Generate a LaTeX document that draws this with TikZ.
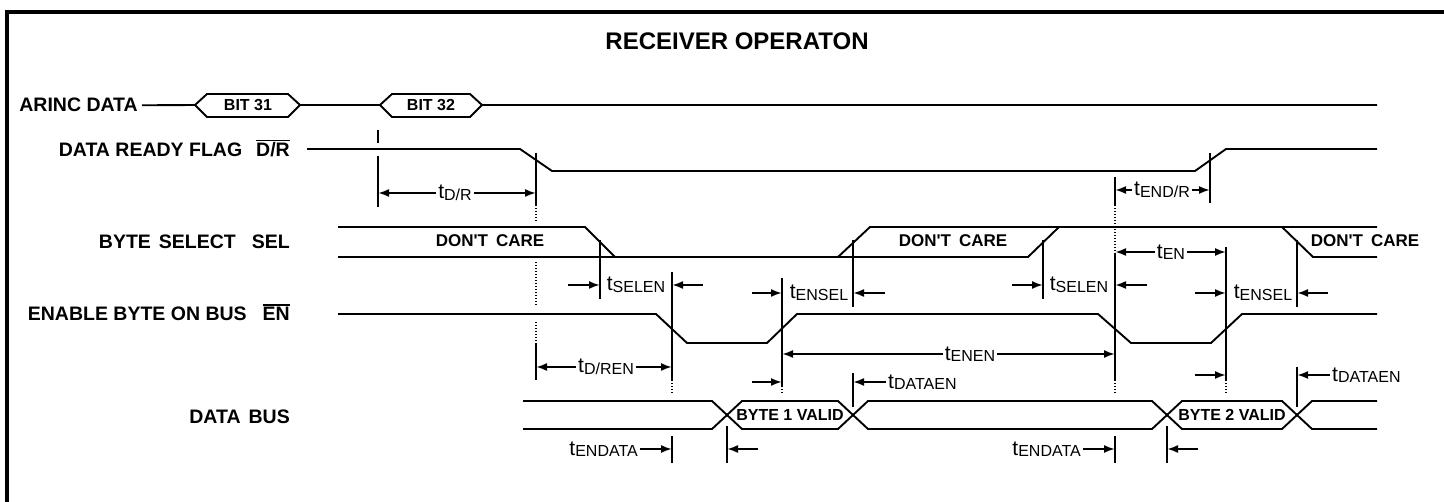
\documentclass[tikz,border=0pt]{standalone}
\usepackage{fontspec}
\setmainfont{Liberation Sans}
\usepackage{tikz}
\usetikzlibrary{arrows.meta, positioning, calc}

\newcommand{\tsub}[1]{t\raisebox{-1.5pt}{\fontsize{16}{16}\selectfont #1}}
\newcommand{\ovl}[1]{\leavevmode\vbox{\hrule height 1.3pt\kern1.8pt\hbox{#1}}}

\begin{document}
\begin{tikzpicture}[x=1pt, y=-1pt,
    sigline/.style={line width=1.9pt},
    markline/.style={line width=2.3pt},
    dotline/.style={line width=1.4pt, dash pattern=on 1.4pt off 1.6pt},
    tarrow/.style={line width=1.9pt, -{Latex[length=11pt, width=8pt]}},
    siglabel/.style={anchor=base east, inner sep=0pt, font=\fontsize{19.5}{20}\selectfont\bfseries},
    boxtext/.style={inner sep=0pt, font=\fontsize{16}{16}\selectfont\bfseries},
    caretext/.style={inner sep=0pt, font=\fontsize{17}{18}\selectfont\bfseries},
    tlabel/.style={inner sep=2pt, font=\fontsize{21}{21}\selectfont}
]
    \useasboundingbox (0,0) rectangle (1444,502);
    \draw[line width=4pt] (7,502) -- (7,12) -- (1444,12);
    \node[font=\fontsize{24}{24}\selectfont\bfseries] (title) at (737,41) {RECEIVER OPERATON};

    % Event times
    \coordinate (bit32) at (378,0);
    \coordinate (drfall) at (536,0);
    \coordinate (selfall) at (600,0);
    \coordinate (enfall) at (672,0);
    \coordinate (bus1) at (727,0);
    \coordinate (enrise) at (782,0);
    \coordinate (selrise) at (853,0);
    \coordinate (selrise2) at (1043,0);
    \coordinate (enfall2) at (1115,0);
    \coordinate (bus2) at (1167,0);
    \coordinate (drrise) at (1210,0);
    \coordinate (enrise2) at (1226,0);
    \coordinate (selfall2) at (1297,0);

    % Signal names
    \node[siglabel] (arinc) at (138,112) {ARINC DATA};
    \node[siglabel] (dr) at (290,157) {DATA READY FLAG\hspace{14pt}\ovl{D/R}};
    \node[siglabel] (sel) at (290,249) {BYTE\hspace{8pt}SELECT\hspace{16pt}SEL};
    \node[siglabel] (en) at (290,321) {ENABLE BYTE ON BUS\hspace{16pt}\ovl{EN}};
    \node[siglabel] (bus) at (290,424) {DATA\hspace{8pt}BUS};

    % ARINC data
    \draw[sigline] ([xshift=4pt]arinc.east) -- (195,105) (300,105) -- (380,105) (482,105) -- (1377,105);
    \draw[sigline] (195,105) -- (207,94) -- (288,94) -- (300,105) -- (288,117) -- (207,117) -- cycle;
    \draw[sigline] (380,105) -- (392,94) -- (470,94) -- (482,105) -- (470,117) -- (392,117) -- cycle;
    \node[boxtext] (bit31) at (248,105) {BIT 31};
    \node[boxtext] (bit32txt) at (431,105) {BIT 32};

    % Data ready
    \draw[sigline] (307,149) -- (520,149) -- (552,171) -- (1195,171) -- (1226,149) -- (1377,149);

    % Byte select
    \draw[sigline] (338,227) -- (585,227) -- (615,257);
    \draw[sigline] (338,257) -- (1028,257) -- (1059,227);
    \draw[sigline] (838,257) -- (870,227) -- (1377,227);
    \draw[sigline] (1282,227) -- (1313,257) -- (1377,257);
    \node[caretext] (care1) at (490,241) {DON\textquotesingle T\hspace{8pt}CARE};
    \node[caretext] (care2) at (953,241) {DON\textquotesingle T\hspace{8pt}CARE};
    \node[caretext] (care3) at (1365,241) {DON\textquotesingle T\hspace{8pt}CARE};

    % Enable
    \draw[sigline] (338,314) -- (656,314) -- (687,343) -- (767,343) -- (797,314) -- (1098,314)
        -- (1131,343) -- (1211,343) -- (1242,314) -- (1377,314);

    % Data bus
    \draw[sigline] (523,401) -- (712,401) -- (742,429) -- (838,429) -- (868,401) -- (1152,401)
        -- (1182,429) -- (1282,429) -- (1312,401) -- (1377,401);
    \draw[sigline] (523,429) -- (712,429) -- (742,401) -- (838,401) -- (868,429) -- (1152,429)
        -- (1182,401) -- (1282,401) -- (1312,429) -- (1377,429);
    \node[boxtext] (byte1) at (790,415) {BYTE 1 VALID};
    \node[boxtext] (byte2) at (1232,415) {BYTE 2 VALID};

    % Markers
    \draw[markline] (378,130) -- (378,143) (378,156) -- (378,207);
    \draw[markline] (536,153) -- (536,205) (536,343) -- (536,380);
    \draw[dotline] (536,205) -- (536,222) (536,262) -- (536,306) (536,322) -- (536,343);
    \draw[markline] (600,240) -- (600,299);
    \draw[markline] (672,272) -- (672,380) (672,436) -- (672,463);
    \draw[dotline] (672,380) -- (672,393);
    \draw[markline] (727,426) -- (727,463);
    \draw[markline] (782,278) -- (782,386);
    \draw[dotline] (782,386) -- (782,393);
    \draw[markline] (853,240) -- (853,307) (853,373) -- (853,407);
    \draw[markline] (1043,240) -- (1043,299);
    \draw[markline] (1115,177) -- (1115,205) (1115,253) -- (1115,380) (1115,436) -- (1115,463);
    \draw[dotline] (1115,205) -- (1115,253) (1115,380) -- (1115,393);
    \draw[markline] (1167,426) -- (1167,463);
    \draw[markline] (1210,153) -- (1210,203);
    \draw[markline] (1226,247) -- (1226,380);
    \draw[dotline] (1226,380) -- (1226,393);
    \draw[markline] (1297,240) -- (1297,307) (1297,367) -- (1297,407);

    % Timing labels
    \node[tlabel] (tdr) at (455,193) {\tsub{D/R}};
    \draw[tarrow] (tdr.west) -- (tdr.west -| bit32);
    \draw[tarrow] (tdr.east) -- (tdr.east -| drfall);

    \node[tlabel] (tendr) at (1162,190) {\tsub{END/R}};
    \draw[tarrow] (tendr.west) -- (tendr.west -| enfall2);
    \draw[tarrow] (tendr.east) -- (tendr.east -| drrise);

    \node[tlabel] (tsel1) at (636,285) {\tsub{SELEN}};
    \draw[tarrow] (tsel1.west -| selfall) ++(-32,0) -- ++(32,0);
    \draw[tarrow] (tsel1.east -| enfall) ++(31,0) -- ++(-31,0);

    \node[tlabel] (tensel1) at (819,293) {\tsub{ENSEL}};
    \draw[tarrow] (tensel1.west -| enrise) ++(-30,0) -- ++(30,0);
    \draw[tarrow] (tensel1.east -| selrise) ++(32,0) -- ++(-32,0);

    \node[tlabel] (tsel2) at (1079,285) {\tsub{SELEN}};
    \draw[tarrow] (tsel2.west -| selrise2) ++(-31,0) -- ++(31,0);
    \draw[tarrow] (tsel2.east -| enfall2) ++(32,0) -- ++(-32,0);

    \node[tlabel] (ten) at (1171,252) {\tsub{EN}};
    \draw[tarrow] (ten.west) -- (ten.west -| enfall2);
    \draw[tarrow] (ten.east) -- (ten.east -| enrise2);

    \node[tlabel] (tensel2) at (1263,293) {\tsub{ENSEL}};
    \draw[tarrow] (tensel2.west -| enrise2) ++(-31,0) -- ++(31,0);
    \draw[tarrow] (tensel2.east -| selfall2) ++(31,0) -- ++(-31,0);

    \node[tlabel] (tenen) at (970,354) {\tsub{ENEN}};
    \draw[tarrow] (tenen.west) -- (tenen.west -| enrise);
    \draw[tarrow] (tenen.east) -- (tenen.east -| enfall2);

    \node[tlabel] (tdren) at (606,367) {\tsub{D/REN}};
    \draw[tarrow] (tdren.west) -- (tdren.west -| drfall);
    \draw[tarrow] (tdren.east) -- (tdren.east -| enfall);

    \node[tlabel, anchor=west] (tdataen1) at (886,382) {\tsub{DATAEN}};
    \draw[tarrow] (tdataen1.west -| enrise) ++(-30,0) -- ++(30,0);
    \draw[tarrow] (tdataen1.west) -- (tdataen1.west -| selrise);

    \node[tlabel, anchor=west] (tdataen2) at (1330,375) {\tsub{DATAEN}};
    \draw[tarrow] (tdataen2.west -| enrise2) ++(-31,0) -- ++(31,0);
    \draw[tarrow] (tdataen2.west) -- (tdataen2.west -| selfall2);

    \node[tlabel, anchor=east] (tendata1) at (640,449) {\tsub{ENDATA}};
    \draw[tarrow] (tendata1.east) -- (tendata1.east -| enfall);
    \draw[tarrow] (tendata1.east -| bus1) ++(31,0) -- ++(-31,0);

    \node[tlabel, anchor=east] (tendata2) at (1083,449) {\tsub{ENDATA}};
    \draw[tarrow] (tendata2.east) -- (tendata2.east -| enfall2);
    \draw[tarrow] (tendata2.east -| bus2) ++(31,0) -- ++(-31,0);
\end{tikzpicture}
\end{document}
